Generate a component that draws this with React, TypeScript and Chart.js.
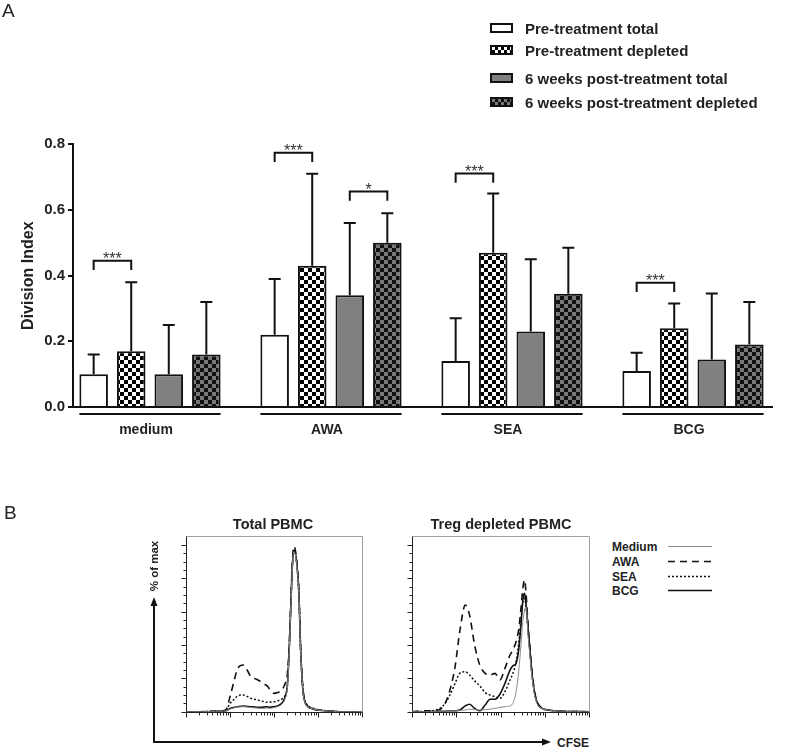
import React, { useEffect, useRef } from 'react';
import { Chart, registerables } from 'chart.js';

Chart.register(...registerables);

const FONT = '"Liberation Sans", Arial, Helvetica, sans-serif';
Chart.defaults.font.family = FONT;

// ---------------- Panel A data ----------------
const categories = ['medium', 'AWA', 'SEA', 'BCG'];
const seriesNames = [
  'Pre-treatment total',
  'Pre-treatment depleted',
  '6 weeks post-treatment total',
  '6 weeks post-treatment depleted',
];
const preTotal = [0.10, 0.22, 0.14, 0.11];
const preDepleted = [0.17, 0.43, 0.47, 0.24];
const postTotal = [0.10, 0.34, 0.23, 0.145];
const postDepleted = [0.16, 0.50, 0.345, 0.19];
// mean + SD (top of error bar)
const preTotalUpper = [0.16, 0.39, 0.27, 0.165];
const preDepletedUpper = [0.38, 0.71, 0.65, 0.315];
const postTotalUpper = [0.25, 0.56, 0.45, 0.346];
const postDepletedUpper = [0.32, 0.59, 0.485, 0.32];
const yMax = 0.8;
const yStep = 0.2;

// significance brackets
const sigGroup = [0, 1, 1, 2, 3];
const sigFrom = [0, 0, 2, 0, 0];
const sigTo = [1, 1, 3, 1, 1];
const sigLevel = [0.445, 0.774, 0.656, 0.711, 0.378];
const sigLabel = ['***', '***', '*', '***', '***'];
const bracketLeg = 0.028;

// ---------------- Panel B data ----------------
const stimNames = ['Medium', 'AWA', 'SEA', 'BCG'];
const histTitles = ['Total PBMC', 'Treg depleted PBMC'];

const totalX = [1, 2, 5, 8, 10, 12, 15, 20, 30, 40, 50, 60, 70, 80, 100, 120, 150, 180, 200, 220, 240, 260, 280, 300, 320, 340, 370, 400, 450, 500, 600, 800, 1000, 1500, 2000, 3000, 5000, 10000];
const totalMedium = [0, 0, 0.2, 0.5, 1.5, 2.2, 2.8, 3, 2.5, 2.2, 2, 2, 2.2, 2, 2.5, 3, 4.5, 8, 14, 34, 61, 85, 96, 95, 91, 84, 69, 39, 14, 6, 3, 1.5, 1, 0.5, 0.3, 0, 0, 0];
const totalAWA = [0, 0, 0.3, 1, 9, 17, 26, 28, 21, 19.5, 18, 16.5, 15.5, 13.5, 11, 11.5, 13, 17, 22, 38, 64, 88, 99, 98, 93, 86, 70, 40, 15, 7, 3, 1.5, 1, 0.5, 0.3, 0, 0, 0];
const totalSEA = [0, 0, 0.3, 0.8, 5, 7, 9.5, 10, 8, 7.2, 6.5, 6, 5.6, 5.8, 6, 6.5, 7.5, 10, 15, 35, 62, 86, 96, 96, 92, 85, 70, 40, 15, 7, 3.5, 2, 1.2, 0.6, 0.3, 0, 0, 0];
const totalBCG = [0, 0, 0.2, 0.5, 2, 2.5, 3, 3.4, 3, 2.7, 2.6, 2.8, 3, 2.6, 3, 3.5, 5, 9, 15, 35, 62, 86, 97, 96, 92, 85, 70, 40, 14, 6, 3, 1.5, 1, 0.5, 0.3, 0, 0, 0];

const depX = [1, 2, 4, 5.6, 7.2, 9.4, 12, 16, 20, 26, 34, 45, 58, 75, 97, 126, 164, 190, 225, 260, 290, 320, 350, 380, 420, 465, 515, 600, 700, 870, 1200, 2200, 10000];
const depMedium = [0, 0, 0.3, 0.3, 0.5, 0.5, 0.8, 1, 1.5, 1.2, 1, 1.2, 1.5, 2, 2.6, 3, 3.5, 5, 12, 25, 40, 54, 61, 63, 46, 33, 21, 9, 4, 2, 1, 0.3, 0];
const depAWA = [0, 0.5, 1, 5, 13, 27, 48, 64, 58, 40, 28, 23, 22, 23, 19, 26, 34, 37, 42, 50, 62, 74, 79, 70, 52, 38, 24, 11, 5, 2, 1, 0.3, 0];
const depSEA = [0, 0.3, 1.5, 5, 10, 17, 23, 24, 22, 18.5, 15.5, 11.5, 10, 9, 8, 12, 19, 23, 30, 42, 55, 66, 68, 62, 48, 35, 22, 10, 4.5, 2, 1, 0.3, 0];
const depBCG = [0, 0, 0.3, 0.3, 0.5, 0.5, 1, 3.5, 4.5, 2, 0.5, 4, 7.5, 7.5, 10.5, 17, 25, 27.5, 29, 38, 52, 67, 71, 64, 50, 36, 23, 10, 4.5, 2, 1, 0.3, 0];

const histXMin = 1;
const histXMax = 10000;
const histYMax = 105.6;

const lineColors = ['#8a8a8a', '#111', '#111', '#111'];
const lineWidths = [1, 1.6, 1.5, 1.6];
const lineDashes: number[][] = [[], [7, 5], [2, 2], []];

function makeChecker(ctx: CanvasRenderingContext2D, a: string, b: string, s: number) {
  const c = document.createElement('canvas');
  c.width = s * 2;
  c.height = s * 2;
  const g = c.getContext('2d')!;
  g.fillStyle = b;
  g.fillRect(0, 0, s * 2, s * 2);
  g.fillStyle = a;
  g.fillRect(0, 0, s, s);
  g.fillRect(s, s, s, s);
  return ctx.createPattern(c, 'repeat')!;
}

const uppers = [preTotalUpper, preDepletedUpper, postTotalUpper, postDepletedUpper];

const barExtras = {
  id: 'barExtras',
  afterDatasetsDraw(chart: any) {
    const { ctx, scales } = chart;
    const y = scales.y;
    ctx.save();
    ctx.strokeStyle = '#111';
    ctx.lineWidth = 2;
    uppers.forEach((ups, d) => {
      const meta = chart.getDatasetMeta(d);
      meta.data.forEach((el: any, i: number) => {
        const x = el.x;
        const yt = y.getPixelForValue(ups[i]);
        ctx.beginPath();
        ctx.moveTo(x, el.y);
        ctx.lineTo(x, yt);
        ctx.moveTo(x - 6, yt);
        ctx.lineTo(x + 6, yt);
        ctx.stroke();
      });
    });
    const m0 = chart.getDatasetMeta(0);
    const m3 = chart.getDatasetMeta(3);
    const uy = y.bottom + 7;
    categories.forEach((_, i) => {
      const a = m0.data[i];
      const b = m3.data[i];
      ctx.beginPath();
      ctx.moveTo(a.x - a.width / 2, uy);
      ctx.lineTo(b.x + b.width / 2, uy);
      ctx.stroke();
    });
    ctx.fillStyle = '#333';
    ctx.font = `16px ${FONT}`;
    ctx.textAlign = 'center';
    ctx.textBaseline = 'alphabetic';
    sigGroup.forEach((g, k) => {
      const x1 = chart.getDatasetMeta(sigFrom[k]).data[g].x;
      const x2 = chart.getDatasetMeta(sigTo[k]).data[g].x;
      const yl = y.getPixelForValue(sigLevel[k]);
      const yd = y.getPixelForValue(sigLevel[k] - bracketLeg);
      ctx.beginPath();
      ctx.moveTo(x1, yd);
      ctx.lineTo(x1, yl);
      ctx.lineTo(x2, yl);
      ctx.lineTo(x2, yd);
      ctx.stroke();
      ctx.fillText(sigLabel[k], (x1 + x2) / 2, yl + 3);
    });
    ctx.restore();
  },
};

const histFrame = {
  id: 'histFrame',
  beforeDatasetsDraw(chart: any) {
    const { ctx, chartArea, scales } = chart;
    const { left, right, top, bottom } = chartArea;
    const L = Math.round(left) + 0.5;
    const R = Math.round(right) + 0.5;
    const T = Math.round(top) + 0.5;
    const B = Math.round(bottom) + 0.5;
    ctx.save();
    ctx.lineWidth = 1;
    ctx.strokeStyle = '#a0a0a0';
    ctx.beginPath();
    ctx.moveTo(L, T);
    ctx.lineTo(R, T);
    ctx.lineTo(R, B);
    ctx.stroke();
    ctx.strokeStyle = '#222';
    ctx.beginPath();
    ctx.moveTo(L, T);
    ctx.lineTo(L, B);
    ctx.lineTo(R, B);
    ctx.stroke();
    // y ticks
    for (let v = 0; v <= 100; v += 5) {
      const py = Math.round(scales.y.getPixelForValue(v)) + 0.5;
      const len = v % 20 === 0 ? 5 : 3;
      ctx.beginPath();
      ctx.moveTo(L - len, py);
      ctx.lineTo(L, py);
      ctx.stroke();
    }
    // x ticks (log)
    for (let d = 0; d < 4; d++) {
      for (let k = 1; k <= 9; k++) {
        const v = k * Math.pow(10, d);
        const px = Math.round(scales.x.getPixelForValue(v)) + 0.5;
        const len = k === 1 ? 5 : 3;
        ctx.beginPath();
        ctx.moveTo(px, B);
        ctx.lineTo(px, B + len);
        ctx.stroke();
      }
    }
    const pxEnd = Math.round(scales.x.getPixelForValue(histXMax)) + 0.5;
    ctx.beginPath();
    ctx.moveTo(pxEnd, B);
    ctx.lineTo(pxEnd, B + 5);
    ctx.stroke();
    ctx.restore();
  },
};

function histConfig(xs: number[], series: number[][], padding: any): any {
  return {
    type: 'line',
    data: {
      datasets: series.map((vals, k) => ({
        label: stimNames[k],
        data: xs.map((x, i) => ({ x, y: vals[i] })),
        borderColor: lineColors[k],
        borderWidth: lineWidths[k],
        borderDash: lineDashes[k],
        pointRadius: 0,
        fill: false,
        cubicInterpolationMode: 'monotone',
      })),
    },
    options: {
      responsive: false,
      animation: false,
      layout: { padding },
      plugins: { legend: { display: false }, tooltip: { enabled: false } },
      scales: {
        x: { type: 'logarithmic', min: histXMin, max: histXMax, display: false },
        y: { type: 'linear', min: 0, max: histYMax, display: false },
      },
    },
    plugins: [histFrame],
  };
}

type TextProps = { x: number; y: number; size: number; bold?: boolean; align?: 'left' | 'center'; rotate?: boolean; children: React.ReactNode };
function Txt({ x, y, size, bold, align = 'center', rotate, children }: TextProps) {
  const tx = align === 'center' ? '-50%' : '0';
  return (
    <div
      style={{
        position: 'absolute',
        left: x,
        top: y,
        fontSize: size,
        fontWeight: bold ? 'bold' : 'normal',
        lineHeight: 1,
        whiteSpace: 'nowrap',
        transform: `translate(${tx}, -50%)${rotate ? ' rotate(-90deg)' : ''}`,
        transformOrigin: rotate ? 'center center' : undefined,
        color: '#222',
      }}
    >
      {children}
    </div>
  );
}

const swatchStyles: React.CSSProperties[] = [
  { background: '#fff' },
  { backgroundImage: 'repeating-conic-gradient(#000 0 25%, #fff 0 50%)', backgroundSize: '6px 6px' },
  { background: '#808080' },
  { backgroundImage: 'repeating-conic-gradient(#111 0 25%, #777 0 50%)', backgroundSize: '6px 6px' },
];
const legendRowY = [27.5, 49.5, 78, 101.5];
const legendBRowY = [547, 562, 577, 591];

export default function App() {
  const barRef = useRef<HTMLCanvasElement>(null);
  const h1Ref = useRef<HTMLCanvasElement>(null);
  const h2Ref = useRef<HTMLCanvasElement>(null);

  useEffect(() => {
    const bctx = barRef.current!.getContext('2d')!;
    const checkBW = makeChecker(bctx, '#000', '#fff', 4);
    const checkDark = makeChecker(bctx, '#111', '#777', 4);
    const fills: any[] = ['#ffffff', checkBW, '#808080', checkDark];
    const values = [preTotal, preDepleted, postTotal, postDepleted];

    const bar = new Chart(bctx, {
      type: 'bar',
      data: {
        datasets: values.map((vals, d) => ({
          label: seriesNames[d],
          data: vals.map((v, i) => ({ x: i, y: v })),
          backgroundColor: fills[d],
          borderColor: '#111',
          borderWidth: 2,
          borderSkipped: 'start',
          categoryPercentage: 0.83,
          barPercentage: 0.76,
        })),
      },
      options: {
        responsive: false,
        animation: false,
        layout: { padding: { top: 144.3, right: 20, left: 0, bottom: 0 } },
        plugins: { legend: { display: false }, tooltip: { enabled: false } },
        scales: {
          x: {
            type: 'linear',
            min: -0.4254,
            max: 3.4365,
            offset: false,
            grid: { display: false, drawTicks: false },
            border: { display: true, color: '#111', width: 2 },
            ticks: {
              stepSize: 1,
              includeBounds: false,
              autoSkip: false,
              maxRotation: 0,
              padding: 15,
              labelOffset: -4,
              color: '#222',
              font: { size: 14, weight: 'bold' },
              callback: (v: any) => categories[v] ?? '',
            },
            afterFit: (s: any) => {
              s.height = 38;
            },
          },
          y: {
            min: 0,
            max: yMax,
            grid: { display: true, drawOnChartArea: false, drawTicks: true, tickLength: 5, lineWidth: 2, color: '#111' },
            border: { display: true, color: '#111', width: 2 },
            ticks: {
              stepSize: yStep,
              padding: 3,
              color: '#222',
              font: { size: 15, weight: 'bold' },
              callback: (v: any) => Number(v).toFixed(1),
            },
            title: {
              display: true,
              text: 'Division Index',
              color: '#222',
              font: { size: 16, weight: 'bold' },
              padding: { top: 19.4, bottom: 0 },
            },
            afterFit: (s: any) => {
              s.width = 73;
            },
          },
        },
      } as any,
      plugins: [barExtras],
    });

    const h1 = new Chart(
      h1Ref.current!,
      histConfig(totalX, [totalMedium, totalAWA, totalSEA, totalBCG], { left: 36, top: 10.7, right: 18, bottom: 13.3 })
    );
    const h2 = new Chart(
      h2Ref.current!,
      histConfig(depX, [depMedium, depAWA, depSEA, depBCG], { left: 32, top: 10.7, right: 21, bottom: 13.3 })
    );

    return () => {
      bar.destroy();
      h1.destroy();
      h2.destroy();
    };
  }, []);

  return (
    <div
      style={{
        position: 'absolute',
        left: 0,
        top: 0,
        width: 792,
        height: 749,
        fontFamily: FONT,
        background: '#fff',
        overflow: 'hidden',
      }}
    >
      <canvas ref={barRef} width={792} height={445} style={{ position: 'absolute', left: 0, top: 0 }} />
      <canvas ref={h1Ref} width={230} height={200} style={{ position: 'absolute', left: 150, top: 525 }} />
      <canvas ref={h2Ref} width={230} height={200} style={{ position: 'absolute', left: 380, top: 525 }} />

      <Txt x={2} y={10} size={19} align="left">A</Txt>
      <Txt x={4} y={512} size={19} align="left">B</Txt>

      {seriesNames.map((name, i) => (
        <React.Fragment key={name}>
          <div
            style={{
              position: 'absolute',
              left: 490,
              top: legendRowY[i] - 5,
              width: 23,
              height: 10,
              boxSizing: 'border-box',
              border: '2px solid #111',
              ...swatchStyles[i],
            }}
          />
          <Txt x={525} y={legendRowY[i]} size={15} bold align="left">{name}</Txt>
        </React.Fragment>
      ))}

      <Txt x={273} y={524} size={14.5} bold>{histTitles[0]}</Txt>
      <Txt x={501} y={524} size={14.5} bold>{histTitles[1]}</Txt>

      {stimNames.map((n, i) => (
        <Txt key={n} x={612} y={legendBRowY[i]} size={12} bold align="left">{n}</Txt>
      ))}

      <Txt x={155} y={566} size={11.5} bold rotate>% of max</Txt>
      <Txt x={557} y={742.5} size={12} bold align="left">CFSE</Txt>

      <svg width={792} height={749} style={{ position: 'absolute', left: 0, top: 0, pointerEvents: 'none' }}>
        {stimNames.map((n, i) => (
          <line
            key={n}
            x1={668}
            x2={712}
            y1={legendBRowY[i] - 0.5}
            y2={legendBRowY[i] - 0.5}
            stroke={lineColors[i]}
            strokeWidth={lineWidths[i]}
            strokeDasharray={lineDashes[i].length ? lineDashes[i].join(' ') : undefined}
          />
        ))}
        <line x1={154} y1={742} x2={154} y2={604} stroke="#111" strokeWidth={2} />
        <polygon points="154,597 150.5,606 157.5,606" fill="#111" />
        <line x1={153} y1={742} x2={543} y2={742} stroke="#111" strokeWidth={2} />
        <polygon points="551,742 542,738.5 542,745.5" fill="#111" />
      </svg>
    </div>
  );
}
